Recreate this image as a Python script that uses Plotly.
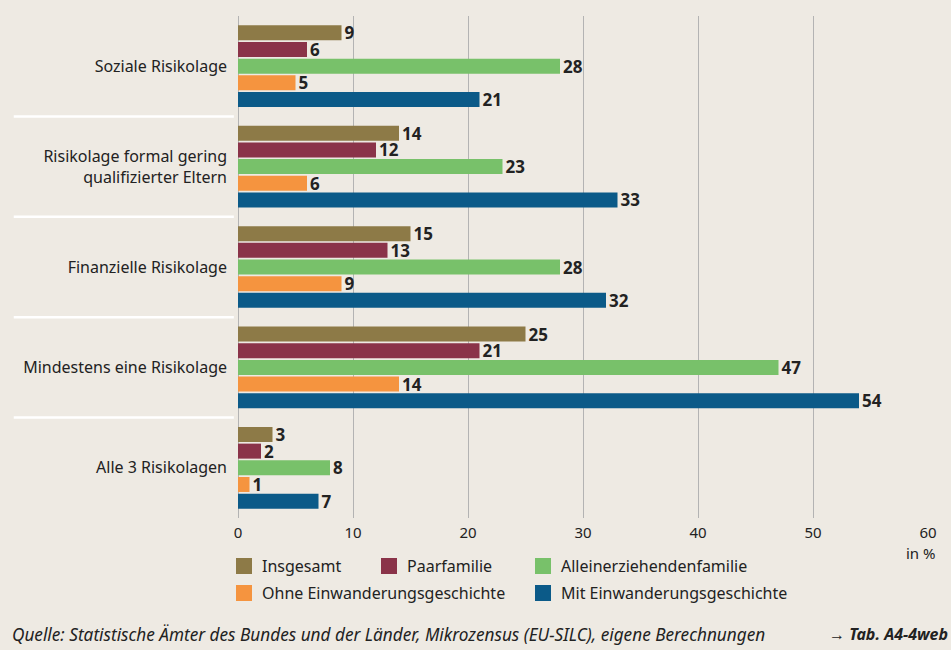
import plotly.graph_objects as go

categories = ["Soziale Risikolage",
              "Risikolage formal gering<br>qualifizierter Eltern",
              "Finanzielle Risikolage",
              "Mindestens eine Risikolage",
              "Alle 3 Risikolagen"]
series_names = ["Insgesamt", "Paarfamilie", "Alleinerziehendenfamilie",
                "Ohne Einwanderungsgeschichte", "Mit Einwanderungsgeschichte"]
insgesamt = [9, 14, 15, 25, 3]
paarfamilie = [6, 12, 13, 21, 2]
alleinerziehend = [28, 23, 28, 47, 8]
ohne_einw = [5, 6, 9, 14, 1]
mit_einw = [21, 33, 32, 54, 7]
x_ticks = [0, 10, 20, 30, 40, 50, 60]

values = [insgesamt, paarfamilie, alleinerziehend, ohne_einw, mit_einw]
colors = ["#8d7a47", "#8a3349", "#78c16a", "#f5943f", "#0b5a88"]

FONT = "Noto Sans"
BG = "#eeeae3"
TXT = "#222222"

fig = go.Figure()
for name, vals, col in zip(series_names, values, colors):
    fig.add_trace(go.Bar(
        y=categories, x=vals, name=name, orientation="h",
        marker=dict(color=col, line=dict(width=0)),
        text=[str(v) for v in vals], textposition="outside",
        constraintext="none",
        textfont=dict(family=FONT, size=17, color=TXT, weight="bold"),
        cliponaxis=False, showlegend=False,
    ))

# group separators (white lines in label area)
for i in range(len(categories) - 1):
    fig.add_shape(type="line", xref="paper", yref="y",
                  x0=-0.325, x1=-0.006, y0=i + 0.5, y1=i + 0.5,
                  line=dict(color="white", width=2.5))

# manual legend
W, H = 951, 650
L, R, T, B = 238, 23, 16, 132
pw, ph = W - L - R, H - T - B
def px(x): return (x - L) / pw
def py(y): return (H - B - y) / ph

legend_pos = [(236, 566), (381, 566), (535, 566), (236, 593), (535, 593)]
for (lx, ly), name, col in zip(legend_pos, series_names, colors):
    fig.add_shape(type="rect", xref="paper", yref="paper",
                  x0=px(lx), x1=px(lx + 16), y0=py(ly + 8), y1=py(ly - 8),
                  fillcolor=col, line=dict(width=0))
    fig.add_annotation(xref="paper", yref="paper", x=px(lx + 24), y=py(ly),
                       text=name, showarrow=False, xanchor="left", yanchor="middle",
                       font=dict(family=FONT, size=16, color=TXT))

fig.add_annotation(xref="paper", yref="paper", x=px(938), y=py(553),
                   text="in %", showarrow=False, xanchor="right", yanchor="middle",
                   font=dict(family=FONT, size=15, color=TXT))
fig.add_annotation(xref="paper", yref="paper", x=px(10), y=py(634),
                   text="<i>Quelle: Statistische Ämter des Bundes und der Länder, Mikrozensus (EU-SILC), eigene Berechnungen</i>",
                   showarrow=False, xanchor="left", yanchor="middle",
                   font=dict(family=FONT, size=17.2, color=TXT))
fig.add_annotation(xref="paper", yref="paper", x=px(950), y=py(634),
                   text="<b><i>→ Tab. A4-4web</i></b>",
                   showarrow=False, xanchor="right", yanchor="middle",
                   font=dict(family=FONT, size=16, color=TXT))

fig.update_layout(
    width=W, height=H,
    margin=dict(l=L, r=R, t=T, b=B, pad=0),
    paper_bgcolor=BG, plot_bgcolor=BG,
    barmode="group", bargap=0.17, bargroupgap=0.1,
    font=dict(family=FONT, size=15, color=TXT),
    xaxis=dict(range=[0, 60], tickvals=x_ticks, ticktext=[str(t) for t in x_ticks],
               showgrid=True, gridcolor="#b3b3b3", gridwidth=1,
               zeroline=True, zerolinecolor="#b3b3b3", zerolinewidth=1,
               showline=False, ticks="", ticklabelstandoff=4,
               tickfont=dict(family=FONT, size=15, color=TXT), fixedrange=True),
    yaxis=dict(autorange="reversed", showgrid=False, zeroline=False, showline=False,
               ticks="", ticklabelstandoff=10,
               tickfont=dict(family=FONT, size=16, color=TXT)),
)

fig.write_html("out.html", config={"displayModeBar": False},
               post_script="document.body.style.margin='0';document.body.style.overflow='hidden';")
